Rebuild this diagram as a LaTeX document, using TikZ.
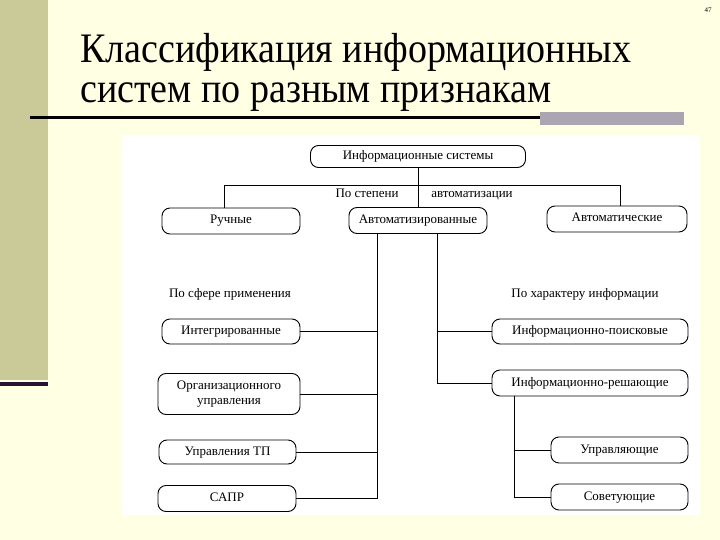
\documentclass[tikz,border=0pt]{standalone}
\usepackage{fontspec}
\setmainfont{Liberation Serif}
\usepackage{graphicx}
\definecolor{cream}{HTML}{FFFFE3}
\definecolor{olive}{HTML}{CACA98}
\definecolor{barGray}{HTML}{A9A5B1}
\definecolor{darkline}{HTML}{2A1030}
\tikzset{
  box/.style={draw, rounded corners=8pt, line width=0.9pt, fill=white,
    inner sep=0pt, font=\fontsize{13}{15}\selectfont, align=center,
    text height=9pt, text depth=3pt},
  lbl/.style={font=\fontsize{13}{15}\selectfont, inner sep=0pt, anchor=base},
  conn/.style={line width=0.9pt},
}
\begin{document}
\begin{tikzpicture}[x=1pt,y=-1pt]
\useasboundingbox (0,0) rectangle (720,540);
\fill[cream] (0,0) rectangle (720,540);
\fill[olive] (0,0) rectangle (48,380);
\fill[darkline] (0,382) rectangle (48,386);
\fill[white] (122,135) rectangle (700,515);
% title
\node[anchor=base west, inner sep=0pt] (t1) at (80,63)
  {\fontsize{42}{42}\selectfont\scalebox{0.905}[1]{Классификация информационных}};
\node[anchor=base west, inner sep=0pt] (t2) at (80,103)
  {\fontsize{42}{42}\selectfont\scalebox{0.905}[1]{систем по разным признакам}};
\fill[barGray] (540,112) rectangle (684,125);
\draw[line width=2.5pt] (30,117.5) -- (540,117.5);
\node[font=\fontsize{7}{7}\selectfont, inner sep=0pt] (pg) at (708,10) {47};
% nodes
\node[box, minimum width=215pt, minimum height=22pt] (top) at (418,156.5) {Информационные системы};
\node[box, minimum width=138pt, minimum height=26pt] (ruch) at (231,221) {Ручные};
\node[box, minimum width=138pt, minimum height=26pt] (avtz) at (418,220.5) {Автоматизированные};
\node[box, minimum width=140pt, minimum height=26pt] (avtm) at (617,219) {Автоматические};
\node[box, minimum width=138pt, minimum height=25pt] (integ) at (231,331.5) {Интегрированные};
\node[box, minimum width=142pt, minimum height=41pt, text height=, text depth=] (org) at (229,394) {Организационного\\управления};
\node[box, minimum width=137pt, minimum height=24pt] (utp) at (227.5,452) {Управления ТП};
\node[box, minimum width=138pt, minimum height=26pt] (sapr) at (227,498.5) {САПР};
\node[box, minimum width=196pt, minimum height=25pt] (ips) at (590,331.5) {Информационно-поисковые};
\node[box, minimum width=196pt, minimum height=26pt] (irs) at (590,383) {Информационно-решающие};
\node[box, minimum width=137pt, minimum height=26pt] (upr) at (619.5,450) {Управляющие};
\node[box, minimum width=137pt, minimum height=26pt] (sov) at (619.5,497) {Советующие};
% labels
\node[lbl] (l1) at (367,198) {По степени};
\node[lbl] (l2) at (472,198) {автоматизации};
\node[lbl] (l3) at (230,297) {По сфере применения};
\node[lbl] (l4) at (585,297) {По характеру информации};
% helper coordinates
\coordinate (hy) at (0,185);
\coordinate (xr) at (224,0);
\coordinate (xa) at (620,0);
\coordinate (vl) at (377,0);
\coordinate (vr) at (437,0);
\coordinate (vs) at (514,0);
% connectors
\draw[conn] (top) -- (avtz);
\draw[conn] (ruch.north -| xr) -- (hy -| xr) -- (hy -| xa) -- (avtm.north -| xa);
\draw[conn] (avtz.south -| vl) |- (sapr.east);
\draw[conn] (integ.east) -- (integ.east -| vl);
\draw[conn] (org.east) -- (org.east -| vl);
\draw[conn] (utp.east) -- (utp.east -| vl);
\draw[conn] (avtz.south -| vr) |- (irs.west);
\draw[conn] (ips.west) -- (ips.west -| vr);
\draw[conn] (irs.south -| vs) |- (sov.west);
\draw[conn] (upr.west) -- (upr.west -| vs);
\end{tikzpicture}
\end{document}
